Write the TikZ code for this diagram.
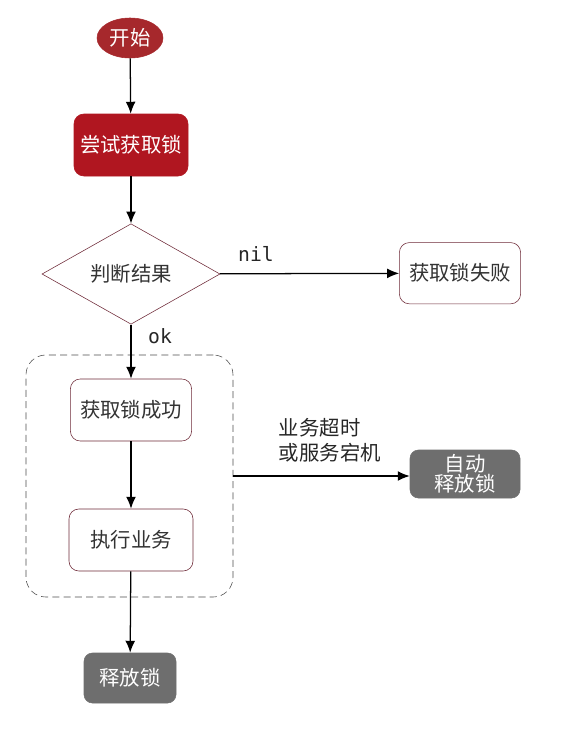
\documentclass[tikz,border=0pt]{standalone}
\usepackage{fontspec}
\setmainfont{Noto Sans CJK SC}
\newfontfamily\monofont{DejaVu Sans Mono}
\usetikzlibrary{shapes.geometric,arrows.meta}
\definecolor{lockred}{HTML}{B01620}
\definecolor{startred}{HTML}{A6282C}
\definecolor{edgered}{HTML}{6E2A38}
\definecolor{releasegray}{HTML}{6E6E6E}
\newcommand{\stepbox}[5]{\node[draw=edgered,rectangle,rounded corners=7pt,fill=white,minimum width=#4cm,minimum height=#5cm,font=\fontsize{14.5}{17}\selectfont] (#1) at (#2,#3) {\textcolor{black!80}{#1}};}
\newcommand{\graybox}[6]{\node[draw=releasegray,fill=releasegray,rectangle,rounded corners=6pt,align=center,minimum width=#4cm,minimum height=#5cm,text=white,font=\fontsize{14.5}{17}\selectfont] (#1) at (#2,#3) {#6};}
\newcommand{\flow}[2]{\draw[line width=0.9pt,->,>={Latex[length=8.5pt,width=7pt]}] (#1) -- (#2);}

\begin{document}
\begin{tikzpicture}
    \useasboundingbox (0,0) rectangle (14.1,-18.35);
    \node[ellipse,draw=startred,fill=startred,text=white,minimum width=1.65cm,minimum height=1cm,inner sep=1pt,font=\fontsize{14.5}{17}\selectfont] (start) at (3.25,-0.95) {开始};
    \node[draw=lockred,fill=lockred,rectangle,rounded corners=7pt,text=white,minimum width=2.85cm,minimum height=1.55cm,font=\fontsize{14.5}{17}\selectfont] (try) at (3.275,-3.625) {尝试获取锁};
    \node[diamond,draw=edgered,minimum width=4.45cm,minimum height=1.8cm,inner sep=0pt,font=\fontsize{14.5}{17}\selectfont] (judge) at (3.275,-6.85) {\textcolor{black!80}{判断结果}};
    \node[draw=black!70,dash pattern=on 5pt off 3pt,rounded corners=14pt,minimum width=5.175cm,minimum height=6.05cm] (group) at (3.2375,-11.9) {};
    \stepbox{获取锁失败}{11.5}{-6.83}{3.03}{1.53}
    \stepbox{获取锁成功}{3.275}{-10.25}{3.03}{1.55}
    \stepbox{执行业务}{3.275}{-13.5}{3.1}{1.55}
    \graybox{释放}{3.25}{-16.95}{2.3}{1.25}{释放锁}
    \graybox{自动}{11.625}{-11.85}{2.75}{1.2}{自动\\[-3pt]释放锁}
    \flow{start}{try}\flow{try}{judge}\flow{judge}{获取锁失败}
    \flow{judge}{获取锁成功}\flow{获取锁成功}{执行业务}\flow{执行业务}{释放}
    \draw[line width=0.9pt,->,>={Latex[length=8.5pt,width=7pt]}] (group.east) -- (group.east -| 自动.west);
    \node[font=\monofont\fontsize{14}{16}\selectfont,text=black!85] (nil) at (6.4,-6.35) {nil};
    \node[font=\monofont\fontsize{14}{16}\selectfont,text=black!85] (ok) at (4.0,-8.4) {ok};
    \node[anchor=west,align=left,font=\fontsize{14.5}{17.5}\selectfont,text=black!85] (why) at (6.85,-11.0) {业务超时\\或服务宕机};
\end{tikzpicture}
\end{document}
